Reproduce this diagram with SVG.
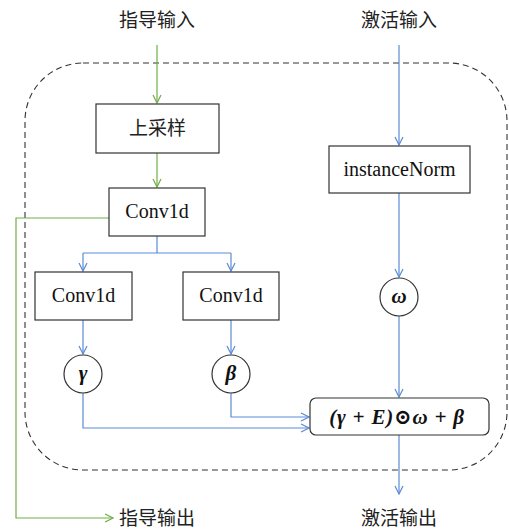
<svg xmlns="http://www.w3.org/2000/svg" width="509" height="529" viewBox="0 0 509 529">
<defs>
<style>
.cjk{font-family:"Noto Sans CJK SC","Noto Sans",sans-serif;font-size:19px;fill:#222;text-anchor:middle}
.lat{font-family:"Liberation Serif","Times New Roman",serif;font-size:20px;fill:#111;text-anchor:middle}
.math{font-family:"Liberation Serif","DejaVu Serif",serif;font-size:21px;font-weight:bold;font-style:italic;fill:#111;text-anchor:middle}
.box{fill:#fff;stroke:#333;stroke-width:1.2}
.g{fill:none;stroke:#70AD47;stroke-width:1.2}
.b{fill:none;stroke:#5B8BD6;stroke-width:1.2}
</style>
<marker id="ag" markerWidth="10" markerHeight="10" refX="9" refY="5" orient="auto" markerUnits="userSpaceOnUse">
<path d="M1,1 L9,5 L1,9" fill="none" stroke="#70AD47" stroke-width="1.2"/>
</marker>
<marker id="ab" markerWidth="10" markerHeight="10" refX="9" refY="5" orient="auto" markerUnits="userSpaceOnUse">
<path d="M1,1 L9,5 L1,9" fill="none" stroke="#5B8BD6" stroke-width="1.2"/>
</marker>
</defs>
<rect width="509" height="529" fill="#fff"/>
<rect id="container" x="25" y="63" width="482" height="407" rx="58" ry="58" fill="none" stroke="#333" stroke-width="1.1" stroke-dasharray="6,4"/>

<g id="connectors">
<path class="g" d="M157,45 V103" marker-end="url(#ag)"/>
<path class="g" d="M157,153 V187" marker-end="url(#ag)"/>
<path class="g" d="M109,218 H16 V518 H113" marker-end="url(#ag)"/>
<path class="b" d="M399,45 V145" marker-end="url(#ab)"/>
<path class="b" d="M399,193 V277" marker-end="url(#ab)"/>
<path class="b" d="M399,316 V397" marker-end="url(#ab)"/>
<path class="b" d="M157,236 V253"/>
<path class="b" d="M83,253 H231"/>
<path class="b" d="M83,253 V271" marker-end="url(#ab)"/>
<path class="b" d="M231,253 V271" marker-end="url(#ab)"/>
<path class="b" d="M83,320 V354" marker-end="url(#ab)"/>
<path class="b" d="M231,320 V354" marker-end="url(#ab)"/>
<path class="b" d="M231,393 V417 H309" marker-end="url(#ab)"/>
<path class="b" d="M83,393 V428 H309" marker-end="url(#ab)"/>
<path class="b" d="M399,435 V494" marker-end="url(#ab)"/>
</g>

<g id="guide_in"><text class="cjk" x="157" y="27">指导输入</text></g>
<g id="act_in"><text class="cjk" x="399" y="27">激活输入</text></g>
<g id="guide_out"><text class="cjk" x="157" y="525">指导输出</text></g>
<g id="act_out"><text class="cjk" x="399" y="525">激活输出</text></g>

<g id="upsample"><rect class="box" x="96" y="104" width="123" height="49"/><text class="cjk" x="157.5" y="135">上采样</text></g>
<g id="instnorm"><rect class="box" x="329" y="146" width="141" height="47"/><text class="lat" x="399.5" y="176">instanceNorm</text></g>
<g id="conv_top"><rect class="box" x="109" y="188" width="96" height="48"/><text class="lat" x="157" y="218">Conv1d</text></g>
<g id="conv_left"><rect class="box" x="35" y="272" width="97" height="48"/><text class="lat" x="83.5" y="302">Conv1d</text></g>
<g id="conv_right"><rect class="box" x="183" y="272" width="96" height="48"/><text class="lat" x="231" y="302">Conv1d</text></g>
<g id="omega"><circle class="box" cx="399" cy="297" r="19"/><text class="math" x="399" y="303">ω</text></g>
<g id="gamma"><circle class="box" cx="83" cy="374" r="19"/><text class="math" x="83" y="380">γ</text></g>
<g id="beta"><circle class="box" cx="231" cy="374" r="19"/><text class="math" x="231" y="380">β</text></g>
<g id="formula"><rect class="box" x="310" y="398" width="179" height="37" rx="6" ry="6"/><text class="math" x="397" y="424" letter-spacing="0.8">(γ + E)⊙ω + β</text></g>
</svg>
